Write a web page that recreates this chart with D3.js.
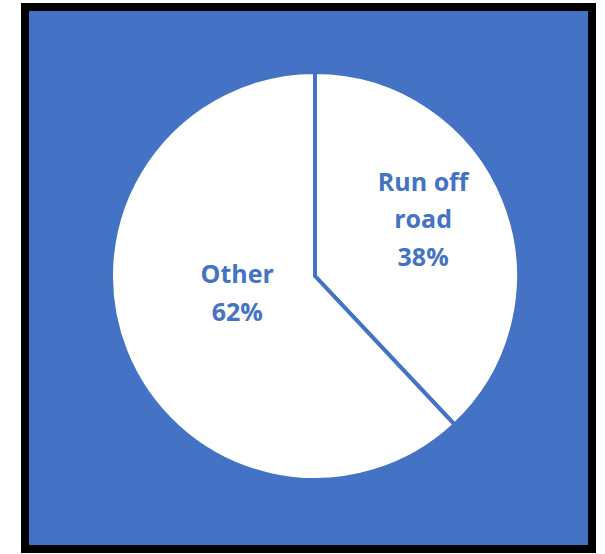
<!DOCTYPE html>
<html>
<head>
<meta charset="utf-8">
<script src="https://cdn.jsdelivr.net/npm/d3@7"></script>
<style>
  body { margin: 0; background: #fff; }
  svg { display: block; }
</style>
</head>
<body>
<div id="chart-area"></div>
<script>
// data
const categories = ["Run off road", "Other"]
const values = [38, 62]
const labelLines = [["Run off", "road"], ["Other"]]

const WIDTH = 605
const HEIGHT = 554
const BLUE = "#4472C4"

const svg = d3.select("#chart-area").append("svg")
  .attr("width", WIDTH)
  .attr("height", HEIGHT)

// blue panel with thick black frame
svg.append("rect")
  .attr("x", 25)
  .attr("y", 7)
  .attr("width", 567)
  .attr("height", 542)
  .attr("fill", BLUE)
  .attr("stroke", "#000")
  .attr("stroke-width", 8)

const cx = 315, cy = 276, radius = 204

const g = svg.append("g")
  .attr("transform", `translate(${cx}, ${cy})`)

const data = categories.map((c, i) => ({ name: c, value: values[i], lines: labelLines[i] }))

const pie = d3.pie()
  .sort(null)
  .value(d => d.value)

const arc = d3.arc()
  .innerRadius(0)
  .outerRadius(radius)

const arcs = pie(data)

g.selectAll("path")
  .data(arcs)
  .enter().append("path")
  .attr("d", arc)
  .attr("fill", "#fff")
  .attr("stroke", BLUE)
  .attr("stroke-width", 4)
  .attr("stroke-linejoin", "miter")

// Excel-style label placement inside slices
const labelRadius = [0.57, 0.41]
const lineH = 37.5

g.selectAll("text.label")
  .data(arcs)
  .enter().append("text")
  .attr("class", "label")
  .attr("text-anchor", "middle")
  .attr("font-family", "'Open Sans', sans-serif")
  .attr("font-weight", "bold")
  .attr("font-size", "25px")
  .attr("fill", BLUE)
  .each(function(d, i) {
    const r = radius * labelRadius[i]
    const [x, y] = d3.arc().innerRadius(r).outerRadius(r).centroid(d)
    const lines = d.data.lines.concat([d.data.value + "%"])
    const top = y - (lines.length - 1) * lineH / 2 - 5
    const t = d3.select(this)
    lines.forEach((ln, k) => {
      t.append("tspan")
        .attr("x", x)
        .attr("y", top + k * lineH)
        .text(ln)
    })
  })
</script>
</body>
</html>
